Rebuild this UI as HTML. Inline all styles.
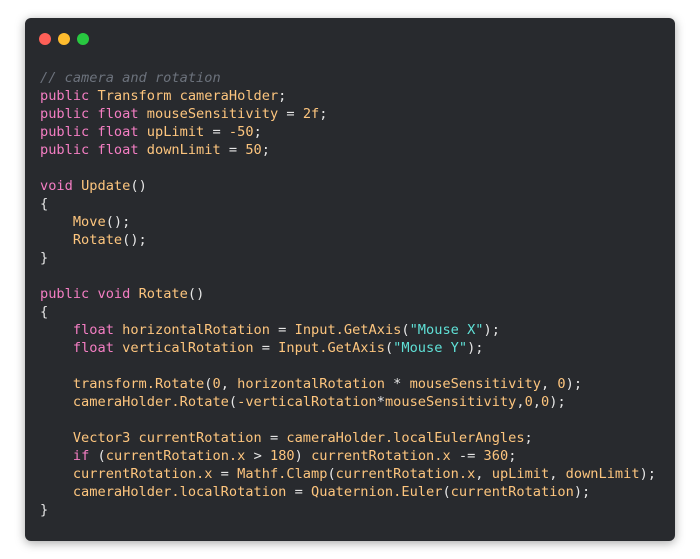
<!DOCTYPE html>
<html><head><style>
html,body{margin:0;padding:0;background:#fff;width:700px;height:559px;overflow:hidden}
.card{position:absolute;left:25px;top:18px;width:650px;height:523px;background:#282a2e;border-radius:6px;box-shadow:0 2px 10px rgba(0,0,0,0.35)}
.dot{position:absolute;top:33px;width:12px;height:12px;border-radius:50%}
pre{position:absolute;left:40px;top:69px;margin:0;font-family:"DejaVu Sans Mono","Liberation Mono",monospace;font-size:13.65px;line-height:18px;color:#fdc57e}
.k{color:#f47ec3}.c{color:#6c727c;font-style:italic}.s{color:#5fe0d6}.p{color:#e6e6e6}
</style></head><body>
<div class="card"></div>
<div class="dot" style="left:39px;background:#fe5f57"></div>
<div class="dot" style="left:58px;background:#febc2e"></div>
<div class="dot" style="left:77px;background:#28c840"></div>
<pre><span class="c">// camera and rotation</span>
<span class="k">public</span> Transform cameraHolder<span class="p">;</span>
<span class="k">public</span> <span class="k">float</span> mouseSensitivity <span class="p">=</span> 2f<span class="p">;</span>
<span class="k">public</span> <span class="k">float</span> upLimit <span class="p">=</span> -50<span class="p">;</span>
<span class="k">public</span> <span class="k">float</span> downLimit <span class="p">=</span> 50<span class="p">;</span>

<span class="k">void</span> Update<span class="p">()</span>
<span class="p">{</span>
    Move<span class="p">();</span>
    Rotate<span class="p">();</span>
<span class="p">}</span>

<span class="k">public</span> <span class="k">void</span> Rotate<span class="p">()</span>
<span class="p">{</span>
    <span class="k">float</span> horizontalRotation <span class="p">=</span> Input.GetAxis<span class="p">(</span><span class="s">"Mouse X"</span><span class="p">);</span>
    <span class="k">float</span> verticalRotation <span class="p">=</span> Input.GetAxis<span class="p">(</span><span class="s">"Mouse Y"</span><span class="p">);</span>

    transform.Rotate<span class="p">(</span>0<span class="p">,</span> horizontalRotation <span class="p">*</span> mouseSensitivity<span class="p">,</span> 0<span class="p">);</span>
    cameraHolder.Rotate<span class="p">(</span>-verticalRotation<span class="p">*</span>mouseSensitivity<span class="p">,</span>0<span class="p">,</span>0<span class="p">);</span>

    Vector3 currentRotation <span class="p">=</span> cameraHolder.localEulerAngles<span class="p">;</span>
    <span class="k">if</span> <span class="p">(</span>currentRotation.x <span class="p">&gt;</span> 180<span class="p">)</span> currentRotation.x <span class="p">-=</span> 360<span class="p">;</span>
    currentRotation.x <span class="p">=</span> Mathf.Clamp<span class="p">(</span>currentRotation.x<span class="p">,</span> upLimit<span class="p">,</span> downLimit<span class="p">);</span>
    cameraHolder.localRotation <span class="p">=</span> Quaternion.Euler<span class="p">(</span>currentRotation<span class="p">);</span>
<span class="p">}</span></pre>
</body></html>
